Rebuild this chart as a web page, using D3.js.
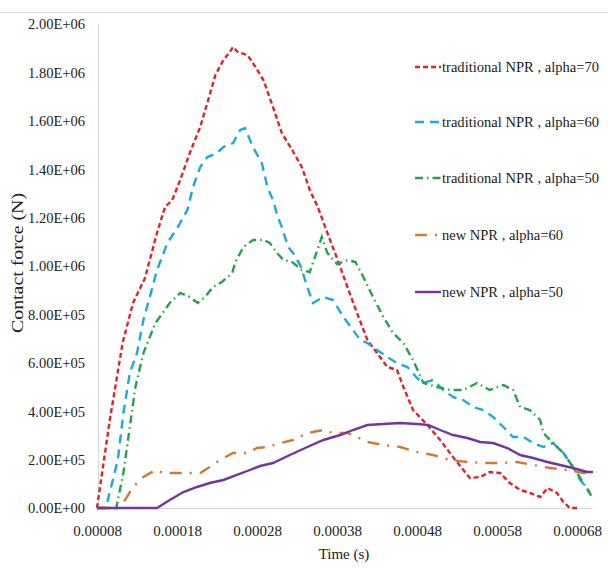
<!DOCTYPE html>
<html>
<head>
<meta charset="utf-8">
<script src="https://cdnjs.cloudflare.com/ajax/libs/d3/7.8.5/d3.min.js"></script>
<style>
body { margin: 0; background: #fff; }
svg text { font-family: "Liberation Serif", serif; }
.axis path, .axis line { stroke: #d9d9d9; }
</style>
</head>
<body>
<svg width="608" height="572"></svg>
<script>
// time in microseconds, force in N
var t70 = [80,96,112,125,140,146,155,165,174,184,196,209,219,228,238,246,250,256,268,275,288,300,311,324,336,346,356,368,380,393,405,418,430,443,455,463,475,493,509,525,538,546,559,571,584,596,609,621,634,643,655,663,671,680];
var f70 = [0,363600,681800,847100,950400,1024700,1136300,1243700,1272700,1355300,1466900,1574300,1685900,1789200,1851100,1884200,1904900,1884200,1871800,1838700,1768500,1656900,1549500,1479300,1409000,1314000,1243700,1136300,1033000,913200,805700,694200,640500,582600,570200,500000,404900,343000,281000,210700,157000,124000,128100,148800,144600,103300,74400,62000,45500,82600,62000,24800,0,0];

var t60 = [80,91,106,113,121,130,138,146,155,168,181,193,200,209,218,230,238,250,259,265,275,286,293,300,306,311,319,325,334,343,350,363,375,388,400,409,418,430,443,455,468,480,488,500,513,525,538,550,563,575,588,600,613,625,638,650,663,675,684,696];
var f60 = [0,0,198300,392500,557800,640500,776800,871900,983400,1095000,1161100,1231300,1326400,1409000,1450300,1466900,1491700,1508200,1561900,1570200,1491700,1425500,1326400,1272700,1202400,1161100,1078500,1053700,1004100,913200,847100,871900,859500,789200,735500,694200,681800,652900,623900,599100,582600,537200,516500,528900,487600,458700,446300,417300,404900,376000,334700,293400,293400,268600,252100,268600,227300,169400,115700,66100];

var t50 = [80,104,113,121,128,138,153,171,184,196,206,215,225,236,249,253,263,275,288,296,305,313,324,336,346,361,368,380,393,403,413,425,438,450,463,475,488,505,521,538,555,571,588,600,609,621,634,638,650,663,675,684,699];
var f50 = [0,0,144600,334700,500000,640500,764400,847100,888400,871900,847100,871900,913200,933800,971000,1016500,1078500,1107400,1107400,1095000,1053700,1024700,1016500,983400,975200,1119800,1053700,1008200,1024700,1016500,954500,871900,789200,723100,681800,611500,516500,500000,487600,487600,516500,487600,508200,487600,417300,404900,363600,309900,268600,227300,169400,124000,45500];

var tNew60 = [80,106,115,125,138,153,163,180,196,209,221,234,250,268,280,293,309,325,343,363,375,393,405,418,438,459,480,500,521,543,563,584,605,625,646,668,688,700];
var fNew60 = [0,0,33100,86800,128100,157000,144600,144600,144600,144600,169400,198300,227300,227300,247900,252100,268600,281000,309900,322300,309900,309900,293400,272700,260300,252100,231400,219000,198300,190100,185900,185900,190100,177700,165300,157000,144600,148800];

var tNew50 = [80,155,171,188,205,221,238,255,271,284,300,321,343,363,384,400,418,438,459,480,494,509,525,543,559,575,593,609,625,643,659,675,693,700];
var fNew50 = [0,0,33100,66100,86800,103300,115700,136400,157000,173500,185900,219000,252100,281000,301600,322300,343000,347100,351200,347100,343000,322300,301600,289200,272700,268600,247900,219000,206600,190100,177700,165300,148800,148800];

var seriesNames = ["traditional NPR , alpha=70", "traditional NPR , alpha=60", "traditional NPR , alpha=50", "new NPR , alpha=60", "new NPR , alpha=50"];
var xTicks = [0.00008, 0.00018, 0.00028, 0.00038, 0.00048, 0.00058, 0.00068];
var yTicks = [0, 2e5, 4e5, 6e5, 8e5, 1e6, 1.2e6, 1.4e6, 1.6e6, 1.8e6, 2e6];

var series = [
  {name: seriesNames[0], t: t70, f: f70, color: "#e0222b", dash: "5,3", w: 2.4},
  {name: seriesNames[1], t: t60, f: f60, color: "#1ea8e0", dash: "9,6", w: 2.4},
  {name: seriesNames[2], t: t50, f: f50, color: "#22a34c", dash: "8,4,1.5,4", w: 2.4},
  {name: seriesNames[3], t: tNew60, f: fNew60, color: "#d27a2e", dash: "12,8,2,8", w: 2.4},
  {name: seriesNames[4], t: tNew50, f: fNew50, color: "#7434a2", dash: null, w: 2.4}
];

var svg = d3.select("svg");

// thin frame line at the top
svg.append("line")
  .attr("x1", 0).attr("x2", 608).attr("y1", 12.5).attr("y2", 12.5)
  .attr("stroke", "#dcdcdc");

var x = d3.scaleLinear().domain([0.00008, 0.0007]).range([97, 593]);
var y = d3.scaleLinear().domain([0, 2e6]).range([508, 24]);

function sci(v) {
  if (v === 0) return "0.00E+00";
  var e = Math.floor(Math.log10(v) + 1e-9);
  var m = v / Math.pow(10, e);
  return m.toFixed(2) + "E+" + (e < 10 ? "0" + e : e);
}

// x axis
var gx = svg.append("g")
  .attr("class", "axis")
  .attr("transform", "translate(0,508)")
  .call(d3.axisBottom(x).tickValues(xTicks).tickSize(0).tickPadding(17)
    .tickFormat(function(d) { return d.toFixed(5); }));
gx.select(".domain").attr("d", "M97.5,0.5H593");
gx.selectAll("text").attr("fill", "#222").style("font-size", "15px");

// y axis
var gy = svg.append("g")
  .attr("class", "axis")
  .attr("transform", "translate(98,0)")
  .call(d3.axisLeft(y).tickValues(yTicks).tickSize(0).tickPadding(13).tickFormat(sci));
gy.select(".domain").attr("d", "M0.5,508V24");
gy.selectAll("text").attr("fill", "#222").style("font-size", "15px")
  .attr("textLength", 57).attr("lengthAdjust", "spacingAndGlyphs");

// axis titles
svg.append("text")
  .attr("x", 344).attr("y", 559)
  .attr("text-anchor", "middle")
  .attr("fill", "#222")
  .style("font-size", "15px")
  .text("Time (s)");

svg.append("text")
  .attr("transform", "translate(23,263) rotate(-90)")
  .attr("text-anchor", "middle")
  .attr("fill", "#222")
  .style("font-size", "16px")
  .attr("textLength", 140)
  .attr("lengthAdjust", "spacingAndGlyphs")
  .text("Contact force (N)");

// lines
var line = d3.line()
  .x(function(d) { return x(d[0] * 1e-6); })
  .y(function(d) { return y(d[1]); });

series.forEach(function(s) {
  var pts = s.t.map(function(t, i) { return [t, s.f[i]]; });
  svg.append("path")
    .datum(pts)
    .attr("d", line)
    .attr("fill", "none")
    .attr("stroke", s.color)
    .attr("stroke-width", s.w)
    .attr("stroke-dasharray", s.dash);
});

// legend
var legendY = [67, 122, 178, 235, 292];
series.forEach(function(s, i) {
  svg.append("line")
    .attr("x1", 415).attr("x2", 441)
    .attr("y1", legendY[i]).attr("y2", legendY[i])
    .attr("stroke", s.color)
    .attr("stroke-width", s.w)
    .attr("stroke-dasharray", s.dash);
  svg.append("text")
    .attr("x", 442).attr("y", legendY[i] + 5)
    .attr("fill", "#222")
    .style("font-size", "15px")
    .attr("textLength", i < 3 ? 157 : 121)
    .attr("lengthAdjust", "spacingAndGlyphs")
    .text(s.name);
});
</script>
</body>
</html>
